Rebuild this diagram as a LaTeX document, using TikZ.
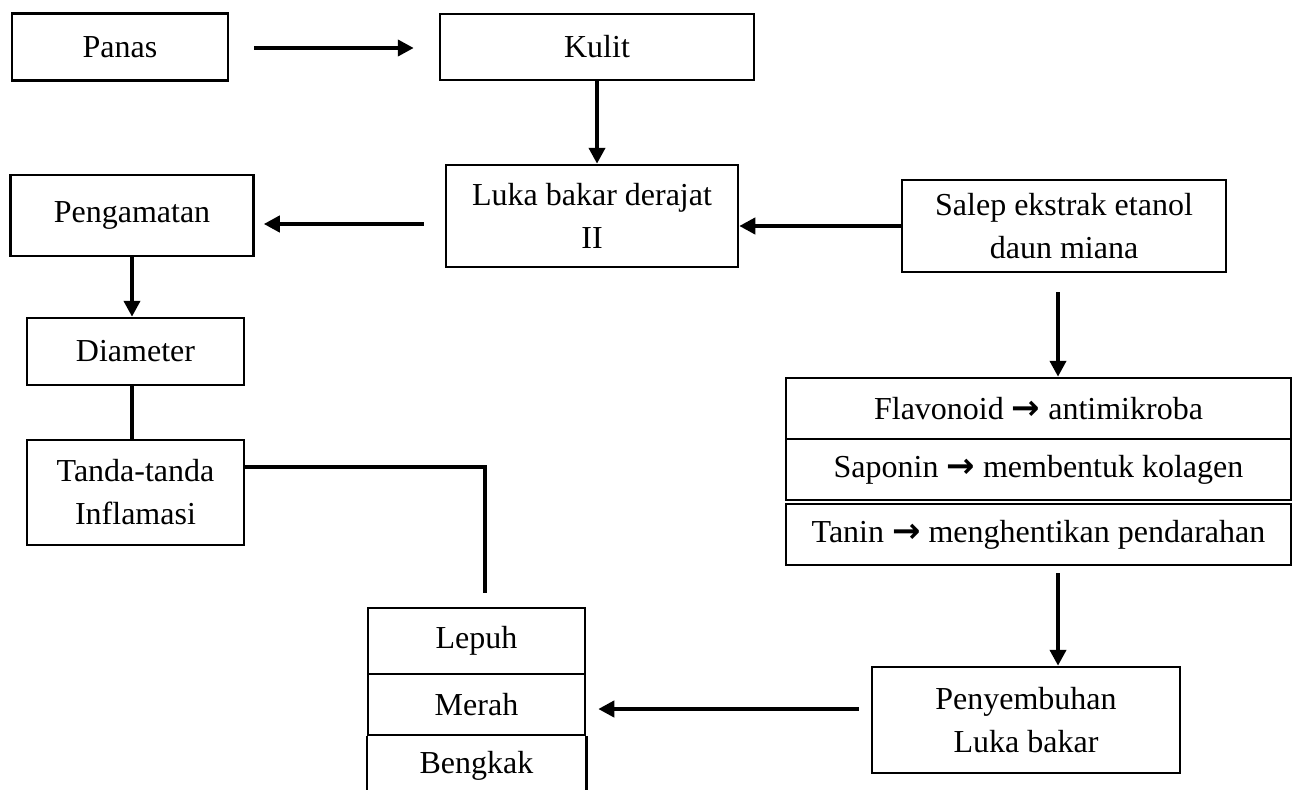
\documentclass[tikz,border=0pt]{standalone}
\usepackage{fontspec}
\setmainfont{Liberation Serif}
\newfontfamily\arrowfont{DejaVu Sans}
\usetikzlibrary{arrows.meta}
\newcommand{\ra}{{\arrowfont\bfseries\fontsize{34}{30}\selectfont →}}
\tikzset{
  box/.style={draw, line width=2.5pt, rectangle, align=center, inner sep=0pt,
    font=\fontsize{32}{43}\selectfont},
  arr/.style={line width=4pt, -{Triangle[length=16pt,width=16pt]}},
  conn/.style={line width=4pt},
}
\begin{document}
\begin{tikzpicture}[x=1pt,y=-1pt]
\useasboundingbox (0,0) rectangle (1297,789);
\fill[white] (0,0) rectangle (1297,789);
% top row
\node[box, minimum width=216, minimum height=67] (panas) at (120,47) {Panas};
\node[box, minimum width=314, minimum height=66] (kulit) at (597,47) {Kulit};
% second row
\node[box, minimum width=243, minimum height=81] (peng) at (132,215.5) {Pengamatan};
\node[box, minimum width=292, minimum height=102] (luka) at (592,216) {Luka bakar derajat\\II};
\node[box, minimum width=324, minimum height=92] (salep) at (1064,226) {Salep ekstrak etanol\\daun miana};
% left column
\node[box, minimum width=217, minimum height=67] (diam) at (135.5,351.5) {Diameter};
\node[box, minimum width=217, minimum height=105] (tanda) at (135.5,492.5) {Tanda-tanda\\Inflamasi};
% right stack
\node[box, minimum width=505, minimum height=61] (flav) at (1038.5,408.5) {Flavonoid \ra\ antimikroba};
\node[box, minimum width=505, minimum height=61] (sapo) at (1038.5,469.5) {Saponin \ra\ membentuk kolagen};
\node[box, minimum width=505, minimum height=61] (tanin) at (1038.5,534.5) {Tanin \ra\ menghentikan pendarahan};
\node[box, minimum width=308, minimum height=106] (peny) at (1026,720) {Penyembuhan\\Luka bakar};
% bottom-left stack
\node[box, minimum width=217, minimum height=66] (lepuh) at (476.5,641) {Lepuh};
\node[box, minimum width=217, minimum height=61] (merah) at (476.5,704.5) {Merah};
\node[box, draw=none, minimum width=217, minimum height=54] (bengkak) at (476.5,766) {Bengkak};
\draw[line width=2.5pt] (merah.south west) -- ++(0,60);
\draw[line width=2.5pt] (merah.south east) -- ++(0,60);
% coordinates for free ends
\coordinate (s1) at (1058,292);
\coordinate (s2) at (1058,573);
\coordinate (t1) at (485,467);
\coordinate (t2) at (485,593);
% connectors
\draw[arr, shorten <=25pt, shorten >=25pt] (panas.east |- 0,48) -- (kulit.west |- 0,48);
\draw[arr] (kulit.south) -- (luka.north -| kulit.south);
\draw[arr, shorten <=21pt, shorten >=9pt] (luka.west |- 0,224) -- (peng.east |- 0,224);
\draw[arr] (salep.west |- 0,226) -- (luka.east |- 0,226);
\draw[arr] (peng.south -| 132,0) -- (diam.north -| 132,0);
\draw[conn] (diam.south -| 132,0) -- (tanda.north -| 132,0);
\draw[arr] (s1) -- (flav.north -| s1);
\draw[arr] (s2) -- (peny.north -| s2);
\draw[arr, shorten <=12pt, shorten >=12pt] (peny.west |- 0,709) -- (merah.east |- 0,709);
\draw[conn] (tanda.east |- t1) -- (t1) -- (t2);
\end{tikzpicture}
\end{document}
